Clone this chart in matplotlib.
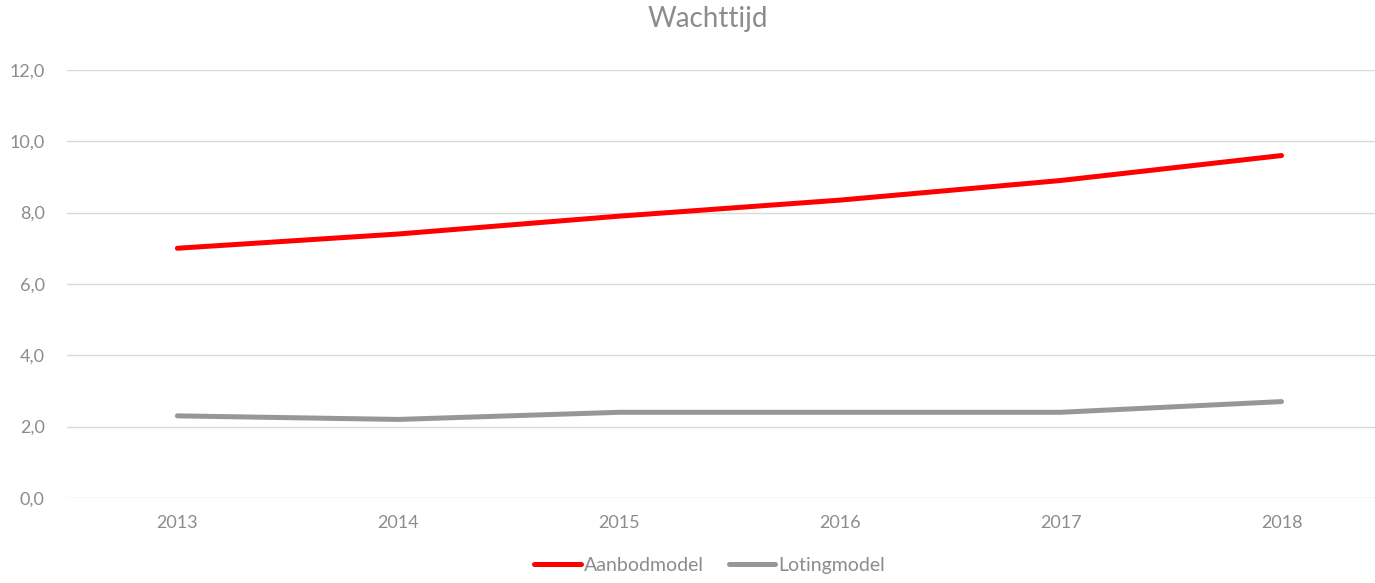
import matplotlib.pyplot as plt
from matplotlib.ticker import FuncFormatter

years = ["2013", "2014", "2015", "2016", "2017", "2018"]
aanbod = [7.0, 7.4, 7.9, 8.35, 8.9, 9.6]
loting = [2.3, 2.2, 2.4, 2.4, 2.4, 2.7]

plt.rcParams['font.family'] = ['Lato', 'DejaVu Sans']
txt = '#8c8c8c'

fig = plt.figure(figsize=(13.75, 5.83), dpi=100)
ax = fig.add_axes([0.0487, 0.146, 0.9636, 0.734])

x = range(len(years))
ax.plot(x, aanbod, color='#ff0000', lw=3.6, solid_capstyle='round', label='Aanbodmodel')
ax.plot(x, loting, color='#979797', lw=3.6, solid_capstyle='round', label='Lotingmodel')

ax.set_xlim(-0.5, len(years) - 0.5)
ax.set_ylim(0, 12)
ax.set_yticks(range(0, 13, 2))
ax.yaxis.set_major_formatter(FuncFormatter(lambda v, p: f"{v:.1f}".replace('.', ',')))
ax.set_xticks(list(x))
ax.set_xticklabels(years)
ax.grid(axis='y', color='#d9d9d9', lw=1)
ax.set_axisbelow(True)
for s in ax.spines.values():
    s.set_visible(False)
ax.tick_params(length=0, labelsize=13, colors=txt)
ax.tick_params(axis='x', pad=12)
ax.tick_params(axis='y', pad=16)

fig.suptitle('Wachttijd', x=0.515, y=0.99, fontsize=20, color=txt)
fig.legend(loc='lower center', bbox_to_anchor=(0.516, -0.015), ncol=2, frameon=False,
           fontsize=14, labelcolor=txt, handlelength=2.4, handletextpad=0.15, columnspacing=1.3)

fig.savefig('out.png', dpi=100)
